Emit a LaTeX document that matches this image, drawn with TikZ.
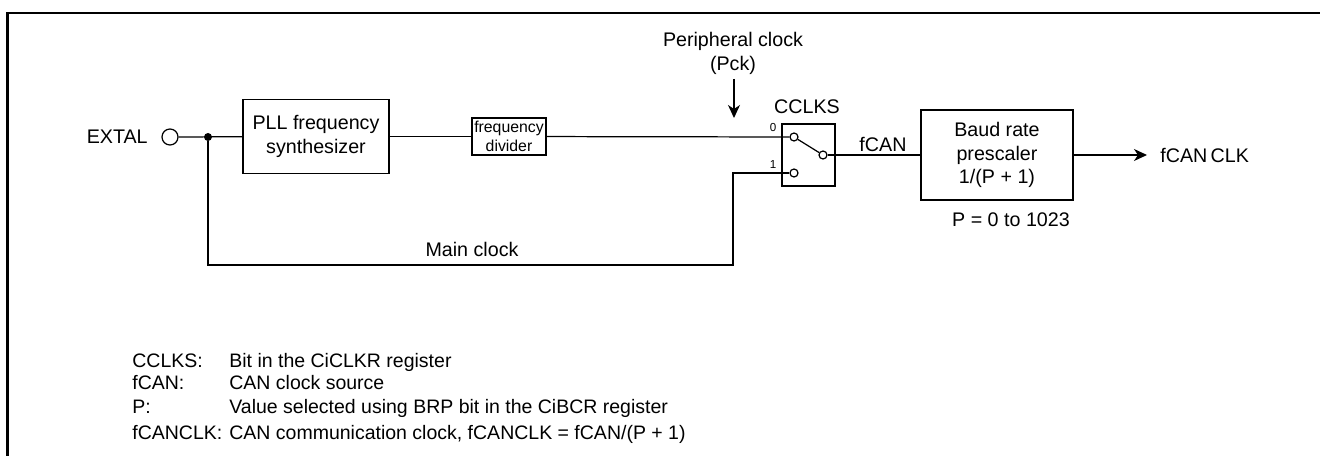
\documentclass[tikz,border=0pt]{standalone}
\usepackage{fontspec}
\setmainfont{Liberation Sans}
\usetikzlibrary{arrows.meta,positioning}
\tikzset{
  box/.style={draw,line width=0.7pt,align=center,font=\fontsize{11.2}{13.6}\selectfont,inner sep=0pt},
  arr/.style={-{Stealth[length=2.6mm,width=2.4mm,inset=0.8mm]},line width=0.7pt},
  wire/.style={line width=0.7pt},
  port/.style={circle,draw,line width=0.7pt,fill=white,inner sep=0pt,minimum size=0.24cm},
  lbl/.style={font=\fontsize{11.2}{13.6}\selectfont,align=center,inner sep=0pt},
  legend/.style={font=\fontsize{11.1}{12}\selectfont,anchor=base west,inner sep=0pt},
}
\begin{document}
\begin{tikzpicture}[x=0.02cm,y=-0.02cm]
\useasboundingbox (0,0) rectangle (1320,456);
\draw[line width=1.3pt] (7.5,456)--(7.5,13)--(1320,13);
% blocks
\node[box,minimum width=2.92cm,minimum height=1.48cm] (pll) at (316,136.5) {PLL frequency\\synthesizer};
\node[box,minimum width=1.48cm,minimum height=0.74cm,font=\fontsize{9}{10.8}\selectfont] (div) at (509,136.5) {frequency\\divider};
\node[box,minimum width=1.06cm,minimum height=1.24cm] (sw) at (808.5,155) {};
\node[box,minimum width=3.04cm,minimum height=1.8cm] (brp) at (997,155) {Baud rate\\prescaler\\1/(P + 1)};
% switch contacts
\node[port,minimum size=0.16cm] (in0) at (794,137) {};
\node[port,minimum size=0.16cm] (in1) at (794,173) {};
\node[port,minimum size=0.16cm] (out) at (823,155) {};
\node[port,minimum size=0.32cm] (extal) at (170,137) {};
\node[circle,fill=black,inner sep=0pt,minimum size=0.16cm] (dot) at (208,137) {};
\coordinate (low) at (733,173);
\coordinate (pcktop) at (734,79);
\coordinate (pckend) at (734,118);
\coordinate (clkend) at (1147,155);
% wires
\draw[wire] (extal)--(pll);
\draw[wire] (pll)--(div);
\draw[wire] (div)--(in0);
\draw[wire] (dot)|-(733,265)--(low)--(in1);
\draw[wire] (in0)--(out);
\draw[wire] (out)--(brp);
\draw[arr] (brp.east|-clkend)--(clkend);
\draw[arr] (pcktop)--(pckend);
% labels
\node[lbl,anchor=east] (extaltxt) at (148,137) {EXTAL};
\node[lbl] (pcktxt) at (733,53) {Peripheral clock\\(Pck)};
\node[lbl] (swtxt) at (807,107) {CCLKS};
\node[lbl] (fcan) at (883,144) {fCAN};
\node[lbl,anchor=west] (clktxt) at (1160,155) {fCAN\,CLK};
\node[lbl] (ptxt) at (1011,220) {P = 0 to 1023};
\node[lbl] (maintxt) at (472,249) {Main clock};
\node[lbl,font=\fontsize{6.6}{7}\selectfont] (zero) at (773,128) {0};
\node[lbl,font=\fontsize{6.6}{7}\selectfont] (one) at (773,165) {1};
% legend
\node[legend] (k1) at (132,367.5) {CCLKS:};
\node[legend] (v1) at (229,367.5) {Bit in the CiCLKR register};
\node[legend] (k2) at (132,389) {fCAN:};
\node[legend] (v2) at (229,389) {CAN clock source};
\node[legend] (k3) at (132,413.5) {P:};
\node[legend] (v3) at (229,413.5) {Value selected using BRP bit in the CiBCR register};
\node[legend] (k4) at (132,439) {fCANCLK:};
\node[legend] (v4) at (229,439) {CAN communication clock, fCANCLK = fCAN/(P + 1)};
\end{tikzpicture}
\end{document}
